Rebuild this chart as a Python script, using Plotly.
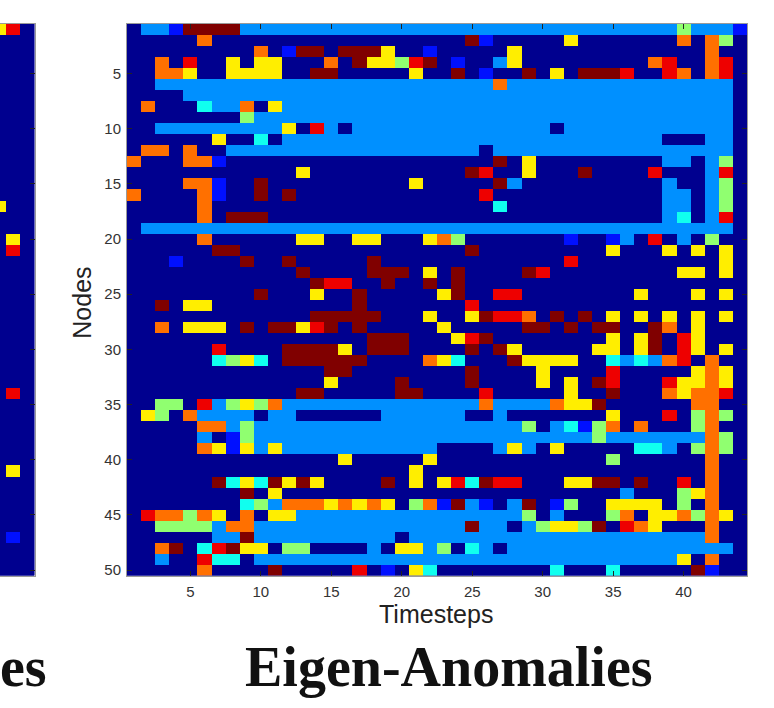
import plotly.graph_objects as go

# category codes -> level
levels = {".": 0, "b": 1, "l": 2, "c": 3, "g": 4, "y": 5, "o": 6, "r": 7, "d": 8}
level_colors = ["#00008f", "#0010ff", "#0090ff", "#10ffef", "#90ff70",
                "#ffee00", "#ff7000", "#ee0000", "#800000"]

timesteps = list(range(1, 45))
nodes = list(range(1, 51))
tick_timesteps = [5, 10, 15, 20, 25, 30, 35, 40]
tick_nodes = [5, 10, 15, 20, 25, 30, 35, 40, 45, 50]

# Right panel: for each node, runs of timesteps "start-end + code"
eigen_rows = [
    "2-3l 4b 5-8d 9-39l 40g 41-43l 44b",
    "6o 25d 26b 32y 40o 42o 43g",
    "10o 12b 13-14d 16-18d 19y 22b 28y 42o",
    "3o 5r 8y 10-11y 15o 17d 18-19y 20g 21r 22d 24b 27l 28y 38o 39r 42o 43r",
    "3-4o 5y 8-11y 14-15d 21y 24d 26b 29d 31y 33-35d 36r 39r 40o 42o 43r",
    "3-26l 27o 28-43l",
    "5-43l",
    "2o 6c 7-8l 9o 11y 12-43l",
    "9g 10-43l",
    "3-11l 12y 14r 15l 17-30l 32-43l",
    "7y 10c 12-38l 42-43l",
    "2-3o 5o 8-25l 27-43l",
    "1o 5-6o 7b 27d 29y 39-40l 42l 43g",
    "13y 25d 26r 29y 33d 38r 42l 43r",
    "5-6o 7b 10d 21y 27d 28l 39l 42l 43g",
    "1o 6o 7b 10d 12d 26r 39-40l 42l 43g",
    "6o 27c 39-40l 42l 43g",
    "6o 8-10d 39l 40c 42l 43r",
    "2-43l",
    "6o 13-14y 17-18y 22y 23o 24g 32b 35b 36l 38r 40l 42g",
    "7-8d 25d 35y 39y 41y 43y",
    "4b 9d 12d 18d 32r 43y",
    "13d 18-20d 22y 24d 29d 30r 40-41y 43y",
    "14d 15-16r 19d 22d 24d",
    "10d 14y 17d 23y 24d 27-28r 37y 41y 43y",
    "3d 5-6y 17d 25r",
    "14-18d 22y 25y 26d 27-28r 29o 31d 33d 35y 37y 39y 41y 43y",
    "3o 5-7y 9d 11-12d 13y 14r 15d 17d 23y 29-30d 32d 34-35d 38d 39o 41y",
    "18-20d 24y 25r 26d 35y 37y 38d 40r 41y",
    "7r 12-15d 16y 18-20d 25d 27d 28y 34-35y 37y 38d 40r 41y 43y",
    "7c 8g 9y 10c 12-17d 22o 23y 24c 28d 29-32y 35c 36l 37c 38l 39o 40r 42o",
    "15-16d 25d 30y 35r 41y 42o 43y",
    "15y 20d 25d 30y 32y 34d 35r 39r 40-41y 42o 43y",
    "13-14d 20-21d 26r 32y 35d 39o 40y 41-42o 43r",
    "3-4g 6r 7l 8g 9y 10g 11o 12-25l 26o 27-30l 31o 32-33y 34d 41-42o",
    "2y 3g 5o 6-9l 11-12l 19-24l 27l 35y 39r 41g 42o 43g",
    "6-7o 8l 9g 10-28l 29g 31l 32c 33b 34g 35o 37o 41g 42o",
    "6l 8b 9g 10-33l 34g 35-41l 42o 43g",
    "6o 7y 8b 9y 10l 11y 12-22l 27l 28y 29l 31y 37-38c 39l 41g 42o 43g",
    "16y 22y 35g 42o",
    "21y 42o",
    "7d 8c 9y 10c 11d 12y 13d 14y 19d 21y 23y 24r 25c 26d 27-28r 32-33y 34-35d 37d 40r 42o",
    "9d 11y 36l 40g 41y 42o",
    "9c 10g 11l 12-14o 15y 16o 17y 18o 19y 21g 22o 23b 24d 25l 26b 28l 29d 31b 32g 35-38y 40g 42o",
    "2r 3-4o 5g 6o 7y 9o 11-12y 13-28l 29g 31l 35g 36o 38-39y 40o 41g 42o 43y",
    "3-6g 7l 8-9o 10-24l 25d 26-27l 29l 30g 31-32y 33g 34d 36r 37o 38y 42o",
    "7-8l 9d 10-19l 21-41l 42o",
    "3o 4d 6c 7r 8d 9-10y 12-13g 18l 20-21y 22l 23g 25c 26l 28-43l",
    "3l 6r 7-8c 10-39l 40y 42o",
    "6o 11d 17r 19b 21y 22c 31c 35c 41d 42b",
]

# Left (cropped) panel: node -> {timestep: code}
cropped_timesteps = [42, 43, 44]
cropped_cells = {1: {42: "y", 43: "r"}, 17: {42: "y"}, 20: {43: "y"}, 21: {43: "r"},
                 34: {43: "r"}, 41: {43: "y"}, 47: {43: "b"}}


def parse_row(text):
    row = [0] * len(timesteps)
    for run in text.split():
        code = run[-1]
        span = run[:-1].split("-")
        for t in range(int(span[0]), int(span[-1]) + 1):
            row[t - 1] = levels[code]
    return row


z_eigen = [parse_row(r) for r in eigen_rows]
z_cropped = [[levels[cropped_cells.get(n, {}).get(t, ".")] for t in cropped_timesteps] for n in nodes]

n = len(level_colors)
scale = []
for i, c in enumerate(level_colors):
    scale += [[i / n, c], [(i + 1) / n, c]]

W, H = 774, 708
fig = go.Figure()
common = dict(colorscale=scale, zmin=-0.5, zmax=8.5, showscale=False, zsmooth=False, hoverongaps=False)
fig.add_trace(go.Heatmap(z=z_cropped, x=cropped_timesteps, y=nodes, xaxis="x", yaxis="y", **common))
fig.add_trace(go.Heatmap(z=z_eigen, x=timesteps, y=nodes, xaxis="x2", yaxis="y2", **common))

sans = "Liberation Sans, Arial, sans-serif"
serif = "Liberation Serif, serif"
tick_font = dict(family=sans, size=15, color="#333333")
frame = dict(showline=True, linecolor="#9a9a9a", linewidth=1, mirror="ticks", ticks="inside",
             ticklen=5, tickwidth=1, tickcolor="#222222", showgrid=False, zeroline=False,
             tickfont=tick_font, ticklabelstandoff=2)
ydom = [1 - 578 / H, 1 - 24 / H]
caption_font = dict(family=serif, size=56, color="#111111")
title_font = dict(family=sans, size=25, color="#222222")

fig.update_layout(
    width=W, height=H, autosize=False, margin=dict(l=0, r=0, t=0, b=0),
    paper_bgcolor="white", plot_bgcolor="#00008f", showlegend=False,
    xaxis=dict(domain=[0, 34.5 / W], range=[42.05, 44.5], tickvals=[], showticklabels=False,
               showline=True, linecolor="#9a9a9a", linewidth=1, mirror=True, showgrid=False, zeroline=False, ticks=""),
    yaxis=dict(domain=ydom, range=[50.5, 0.5], anchor="x", tickvals=tick_nodes, showticklabels=False,
               side="right", showline=True, linecolor="#9a9a9a", linewidth=1, ticks="inside", ticklen=5,
               tickcolor="#222222", showgrid=False, zeroline=False),
    xaxis2=dict(domain=[127 / W, 747 / W], range=[0.5, 44.5], anchor="y2", tickvals=tick_timesteps, **frame),
    yaxis2=dict(domain=ydom, range=[50.5, 0.5], anchor="x2", tickvals=tick_nodes, **frame),
    annotations=[
        dict(text="Timesteps", xref="paper", yref="paper", x=436 / W, y=1 - 617 / H,
             xanchor="center", yanchor="middle", showarrow=False, font=title_font),
        dict(text="Nodes", xref="paper", yref="paper", x=82 / W, y=1 - 304 / H, textangle=-90,
             xanchor="center", yanchor="middle", showarrow=False, font=title_font),
        dict(text="<b>Eigen-Anomalies</b>", xref="paper", yref="paper", x=449 / W, y=1 - 670 / H,
             xanchor="center", yanchor="middle", showarrow=False, font=caption_font),
        dict(text="<b>es</b>", xref="paper", yref="paper", x=49 / W, y=1 - 670 / H,
             xanchor="right", yanchor="middle", showarrow=False, font=caption_font),
    ],
)
fig.write_html("out.html", config={"displayModeBar": False},
               post_script="document.body.style.margin='0';document.body.style.overflow='hidden';")
